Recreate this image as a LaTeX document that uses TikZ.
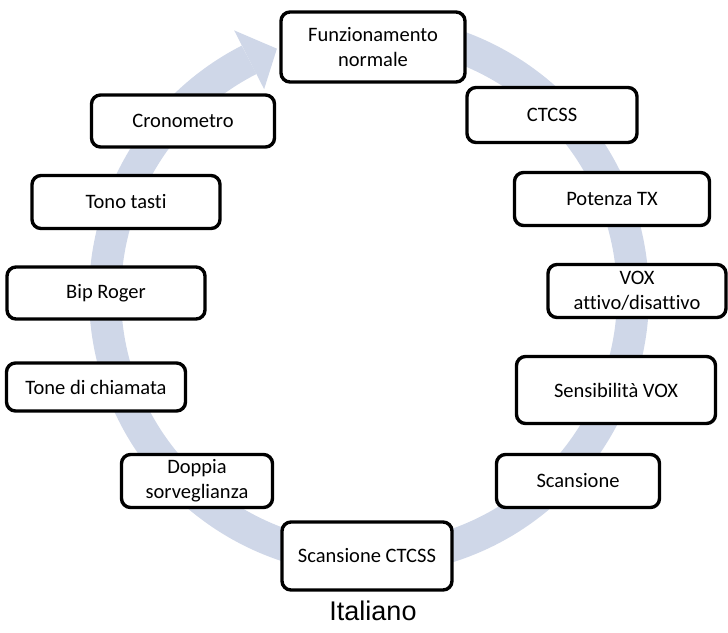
\documentclass[tikz,border=0pt]{standalone}
\usepackage{fontspec}
\usetikzlibrary{calc}
\setmainfont{Carlito}[Ligatures=NoCommon]
\newfontfamily\arialfont{Liberation Sans}
\definecolor{bandblue}{RGB}{207,215,232}
\begin{document}
\begin{tikzpicture}[x=1pt,y=-1pt,
  box/.style={draw=black, line width=3.4pt, rounded corners=9pt, fill=white,
    align=center, inner sep=2pt, font=\fontsize{20.5}{25}\selectfont},
  band/.style={draw=bandblue, line width=32pt},
]
\useasboundingbox (0,0) rectangle (728,632);
\coordinate (c) at (369,295);
% circular band with arrow head
\draw[band] (c) ++(-95:264) arc[start angle=-95, end angle=243, radius=264];
\fill[bandblue] ($(c)+(243:297)$) -- ($(c)+(249.5:263)$) -- ($(c)+(243:231)$) -- cycle;
% boxes
\node[box, minimum width=184pt, minimum height=70pt] (fn) at (373,47) {Funzionamento\\normale};
\node[box, minimum width=170pt, minimum height=55pt] (ctcss) at (552,115) {CTCSS};
\node[box, minimum width=195pt, minimum height=53pt] (pot) at (612,199) {Potenza TX};
\node[box, minimum width=178pt, minimum height=53pt] (vox) at (637,291) {VOX\\attivo/disattivo};
\node[box, minimum width=199pt, minimum height=67pt] (sens) at (616,390) {Sensibilità VOX};
\node[box, minimum width=163pt, minimum height=53pt] (scan) at (578,481) {Scansione};
\node[box, minimum width=170pt, minimum height=68pt] (sctcss) at (367,556) {Scansione CTCSS};
\node[box, minimum width=151pt, minimum height=53pt] (doppia) at (197,481) {Doppia\\sorveglianza};
\node[box, minimum width=179pt, minimum height=48pt] (tone) at (96,387) {Tone di chiamata};
\node[box, minimum width=198pt, minimum height=52pt] (bip) at (106,293) {Bip Roger};
\node[box, minimum width=188pt, minimum height=53pt] (tono) at (126,202) {Tono tasti};
\node[box, minimum width=183pt, minimum height=52pt] (crono) at (183,121) {Cronometro};
\node[font=\arialfont\fontsize{27}{30}\selectfont] (lang) at (373,611) {Italiano};
\end{tikzpicture}
\end{document}
